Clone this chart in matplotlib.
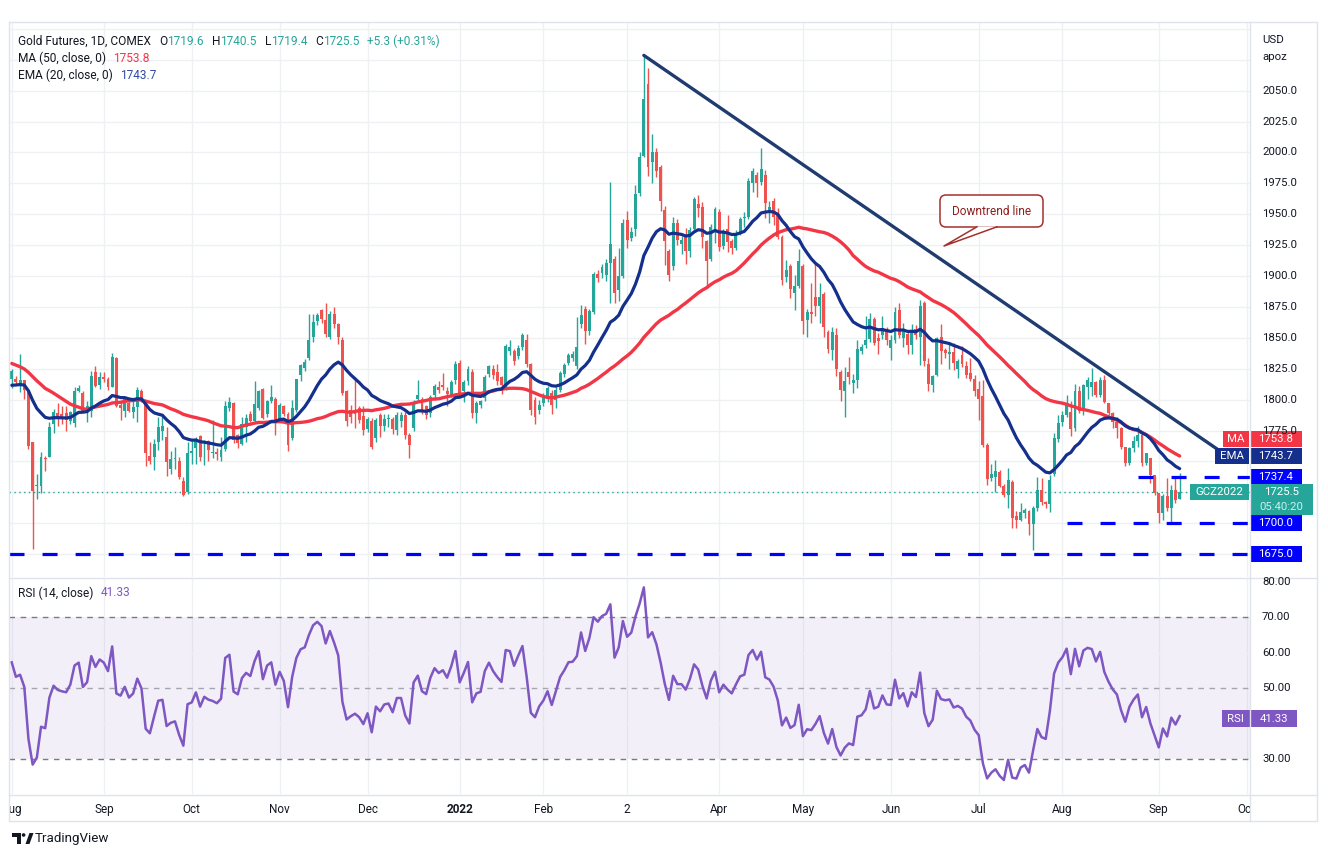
import numpy as np
import pandas as pd
import matplotlib
matplotlib.use("Agg")
import matplotlib.pyplot as plt
from matplotlib.patches import Rectangle, FancyBboxPatch, Polygon, Circle

plt.rcParams['font.family'] = ['Roboto', 'DejaVu Sans']
plt.rcParams['lines.scale_dashes'] = False

# closes before the first drawn bar (late May - Jul 2021), only used to warm up MA / EMA / RSI
pre_close = [1838, 1867, 1868, 1881, 1877, 1881, 1882, 1898, 1901, 1895, 1902,
             1903, 1909, 1871, 1891, 1898, 1893, 1895, 1899, 1877, 1865, 1857,
             1812, 1774, 1764, 1783, 1778, 1782, 1776, 1781, 1780, 1761, 1770,
             1783, 1787, 1797, 1803, 1801, 1810, 1806, 1810, 1827, 1829, 1815,
             1813, 1811, 1804, 1807, 1802, 1799, 1800, 1808, 1833, 1817]

# daily bars, Aug 2 2021 .. Sep 9 2022
opens = [
    1817, 1817, 1813, 1815.5, 1807.4, 1765.4, 1729.8, 1730.2, 1753, 1753.8,
    1780.3, 1789, 1788.4, 1789, 1783, 1780.8, 1807, 1805.7, 1791, 1791,
    1822.2, 1812.2, 1818, 1816.3, 1810.6, 1833.9, 1795.7, 1791, 1797, 1789.8,
    1794.4, 1806.8, 1799.2, 1754.6, 1753.8, 1765.4, 1774.4, 1769.5, 1743.8, 1752,
    1750.5, 1734.3, 1725.6, 1756.5, 1761, 1770.8, 1761.5, 1766.8, 1757, 1757.3,
    1753.2, 1760, 1793.3, 1797.3, 1771.6, 1764, 1778, 1788, 1782.5, 1793.3,
    1808.2, 1788, 1798.7, 1800.9, 1783.8, 1794.6, 1788.7, 1768.9, 1791.9, 1819.8,
    1825.2, 1833.9, 1850.6, 1863.6, 1872.3, 1864.2, 1850.6, 1869, 1861, 1848,
    1806.8, 1792, 1792, 1793.3, 1786.5, 1776.2, 1783, 1768.9, 1787.3, 1778.4,
    1784, 1784.4, 1775.7, 1783, 1787.9, 1771.6, 1777.1, 1800.1, 1800.1, 1794.6,
    1789.2, 1804.1, 1810.3, 1812.2, 1806.8, 1804.1, 1815.5, 1829.8, 1806.8, 1814.9,
    1822, 1789, 1796, 1801.2, 1820.7, 1825, 1822.3, 1818, 1809.3, 1839.1,
    1839.6, 1835, 1842.3, 1848, 1828.8, 1799.8, 1791.7, 1797, 1801.2, 1805.3,
    1800, 1808, 1820.7, 1829.6, 1833.7, 1826.9, 1861.3, 1873.4, 1855.3, 1871,
    1901.3, 1902.1, 1900.8, 1910.8, 1913.5, 1889, 1900, 1945.1, 1931.1, 1937.8,
    1967, 1997, 2055, 1991.9, 2000.1, 1988.4, 1953.2, 1920.2, 1908, 1943.2,
    1926, 1932, 1920.2, 1938, 1958, 1956, 1928, 1914, 1938, 1952,
    1924, 1937.8, 1928.3, 1923, 1935.1, 1947, 1948, 1975, 1981.9, 1976,
    1981.9, 1951.3, 1961, 1949, 1931.8, 1899.4, 1908, 1886.4, 1892, 1908,
    1864.2, 1870.9, 1883, 1876, 1885.3, 1854.7, 1840, 1852.5, 1822.2, 1807,
    1822, 1813.3, 1816, 1839.3, 1843.9, 1849, 1865.5, 1850, 1852, 1857.4,
    1842, 1848, 1872.8, 1850, 1853.4, 1844, 1857.4, 1850.6, 1878.5, 1829,
    1812, 1820, 1851, 1840.1, 1837, 1838.7, 1825, 1836, 1827, 1821.7,
    1817, 1808.2, 1803, 1763.5, 1736.5, 1737.8, 1741.3, 1730.5, 1722.9, 1733.2,
    1706, 1702.7, 1708, 1710, 1699, 1712.7, 1727, 1717.5, 1715.4, 1740,
    1768.4, 1781.9, 1787.3, 1790, 1777, 1806.8, 1790.6, 1810, 1810.1, 1814.4,
    1804.1, 1815.5, 1797, 1789.2, 1782, 1777.1, 1761.4, 1748.6, 1760.8, 1766.8,
    1771, 1748.6, 1753, 1739.2, 1724.3, 1708.1, 1722.4, 1712.1, 1727, 1719.6]
highs = [
    1825, 1819, 1837, 1816, 1808.7, 1765.4, 1739.7, 1757.3, 1754.6, 1782.2,
    1792.5, 1797.3, 1795.2, 1795.2, 1791.1, 1810, 1812, 1807, 1799.2, 1823,
    1826.8, 1822.2, 1822.2, 1818.7, 1837.7, 1834.5, 1799.2, 1802.5, 1800.6, 1799.2,
    1810.6, 1808.7, 1800, 1766, 1768.5, 1785.7, 1786.5, 1777.6, 1758.7, 1761.5,
    1753.2, 1737, 1765.4, 1767, 1770, 1771.6, 1767, 1767.4, 1783.6, 1760.5,
    1770, 1799, 1802, 1798, 1772, 1786, 1788, 1791, 1814.9, 1808,
    1809, 1800, 1812.2, 1802, 1797, 1796, 1790, 1800, 1817, 1829,
    1833, 1869.6, 1869.6, 1870, 1873, 1878.5, 1872, 1875, 1862, 1851,
    1808, 1796, 1818.2, 1795, 1794.6, 1786, 1785, 1785, 1789, 1788,
    1788, 1786, 1790, 1790, 1790, 1773, 1800, 1815.5, 1802, 1796,
    1804, 1813, 1815, 1821.7, 1810, 1816, 1831, 1832, 1816, 1827,
    1825, 1799, 1800, 1820, 1828, 1828, 1829, 1819, 1845, 1848,
    1841, 1844, 1854, 1853, 1830, 1802, 1800, 1805, 1811, 1808,
    1810, 1823, 1830, 1838, 1839, 1866.7, 1876.9, 1876, 1873, 1903,
    1905, 1910, 1914, 1976.2, 1916, 1923, 1946, 1952.7, 1940, 1973.8,
    2000, 2078.5, 2068.5, 2014.9, 2003.6, 1990, 1956.8, 1922, 1948, 1946,
    1932, 1939, 1940, 1964, 1965.6, 1960.2, 1929, 1942, 1956, 1954,
    1938, 1949.4, 1930, 1937, 1948, 1952.1, 1979, 1987, 1984, 2003.5,
    1985.9, 1961, 1963, 1955, 1933, 1912.9, 1910, 1900.7, 1921.5, 1910,
    1873, 1894.5, 1911.5, 1894.5, 1887, 1856, 1858.8, 1857.9, 1824, 1826.3,
    1834.4, 1821, 1848.5, 1845, 1867.4, 1870.1, 1867, 1854, 1867.4, 1859,
    1852, 1875, 1878.2, 1862, 1855, 1861.5, 1860, 1880.4, 1880, 1833.3,
    1820, 1851, 1861, 1842, 1846, 1846, 1833, 1843.3, 1831.2, 1833.3,
    1820, 1814.9, 1816, 1765, 1747.8, 1751.4, 1743, 1732, 1744.6, 1735,
    1710, 1716.2, 1712, 1711, 1714, 1737.8, 1736.5, 1718, 1739.2, 1773,
    1787.9, 1790.6, 1804.1, 1799, 1812.8, 1810.9, 1813, 1818, 1825.2, 1815,
    1818.2, 1820, 1797, 1790, 1786, 1778, 1762, 1762, 1770.3, 1778.4,
    1773, 1757, 1752, 1738, 1724, 1724, 1736.5, 1731.1, 1736.5, 1740.5]
lows = [
    1809, 1812, 1806, 1800.6, 1760, 1679, 1719.4, 1724.8, 1742.4, 1753.2,
    1772.7, 1779, 1780.3, 1775, 1780.3, 1778, 1806, 1789.8, 1782.2, 1785.7,
    1810, 1808.7, 1814, 1807.4, 1810, 1794, 1783.5, 1785.7, 1790, 1785,
    1781.7, 1798, 1746, 1748, 1743, 1759, 1767, 1738.4, 1740, 1744,
    1735.6, 1722, 1724, 1748, 1748, 1750.5, 1747, 1750.5, 1753, 1751,
    1750.5, 1758.7, 1791, 1765, 1761, 1763, 1766, 1782, 1782, 1792,
    1784, 1786, 1797, 1771.6, 1782, 1787, 1758.6, 1767, 1790, 1815,
    1823, 1832, 1847, 1860, 1862, 1851, 1849, 1858, 1844.7, 1804,
    1779, 1781, 1777, 1781, 1771.6, 1774, 1760, 1766, 1770, 1775,
    1778, 1772, 1771, 1778, 1768, 1752.7, 1775, 1798, 1788, 1784,
    1786, 1800, 1805, 1808, 1795, 1802, 1813, 1803, 1798, 1812,
    1785, 1780.9, 1793, 1799, 1818, 1817, 1812, 1804.4, 1808, 1836,
    1828, 1833, 1840, 1826, 1787.7, 1780.1, 1788, 1795, 1798, 1788.2,
    1793.1, 1806, 1818, 1828, 1831, 1825, 1858, 1845, 1852, 1869,
    1895, 1898, 1896, 1878.3, 1878, 1880, 1898, 1922.4, 1928, 1932.4,
    1965, 1996, 1981.1, 1974.9, 1980, 1952.7, 1908.9, 1895.9, 1905, 1925,
    1918, 1910, 1915, 1936, 1948, 1922.3, 1890, 1912, 1927, 1920,
    1922, 1919.6, 1918, 1921, 1933, 1939.4, 1946, 1968, 1963.7, 1974,
    1946.7, 1943.2, 1941.3, 1930, 1892.6, 1895, 1882.6, 1872.3, 1890, 1853.4,
    1850.6, 1862, 1868, 1862, 1850.6, 1838, 1831.7, 1819.5, 1798.7, 1785.7,
    1812.8, 1805.5, 1809.5, 1837, 1842, 1847, 1844, 1837.1, 1849, 1843.9,
    1831.7, 1846, 1850, 1842.5, 1837, 1837.1, 1849, 1827.7, 1827.1, 1806.8,
    1806, 1819, 1829, 1834, 1824.4, 1823.6, 1817.6, 1826, 1817.6, 1814.9,
    1802.8, 1783.8, 1762, 1731.1, 1734, 1725.6, 1729, 1721, 1712.1, 1695.9,
    1695.9, 1701.8, 1704, 1690.5, 1678.3, 1710, 1715, 1712.1, 1709.4, 1738,
    1766, 1779, 1786, 1770.3, 1775, 1789.2, 1787.9, 1800.1, 1802.8, 1802,
    1802, 1797.3, 1787.9, 1777.1, 1768.9, 1760, 1746, 1747.3, 1758, 1762,
    1745.9, 1747.3, 1732.4, 1723, 1699.9, 1702.7, 1710, 1701.3, 1716, 1719.4]
closes = [
    1823, 1814, 1815.5, 1808, 1762.7, 1726.2, 1731, 1753.8, 1752, 1778.1,
    1789.8, 1785.7, 1784.4, 1783.6, 1789.8, 1806.8, 1809.5, 1791, 1795, 1819.5,
    1811.4, 1818.7, 1816.5, 1810.6, 1834.4, 1795.2, 1793, 1801, 1791, 1794.4,
    1807.4, 1799.2, 1756.5, 1750.5, 1764, 1778.1, 1778.9, 1749.2, 1751.9, 1753,
    1737, 1722.9, 1757, 1758.7, 1768, 1753.2, 1762, 1759.2, 1758, 1756,
    1759.2, 1795, 1798.4, 1767.6, 1765, 1780, 1785, 1782.5, 1796.5, 1806.8,
    1785.2, 1798.7, 1802, 1783.8, 1796, 1788.4, 1763.5, 1793.3, 1816.3, 1827.9,
    1830.6, 1847.9, 1863, 1868.5, 1865.5, 1852.8, 1869.6, 1861, 1851, 1805.5,
    1782.5, 1785.7, 1788, 1783.8, 1775.7, 1784.4, 1761.6, 1783.8, 1778.4, 1784.4,
    1785.2, 1776.5, 1787.9, 1787.9, 1771.6, 1763.5, 1797.3, 1804.1, 1790, 1787.3,
    1802, 1811.4, 1807.6, 1810.1, 1804.7, 1814.4, 1828.5, 1805.5, 1814.1, 1824.4,
    1789, 1797.1, 1798.5, 1818, 1826.9, 1820.1, 1815.3, 1811.5, 1843.1, 1842.3,
    1831.5, 1841.8, 1852.1, 1828.8, 1791.7, 1786.3, 1795.8, 1801, 1809.3, 1795.8,
    1808, 1821.5, 1828.2, 1836.4, 1836.9, 1842.3, 1868.8, 1855.8, 1871.5, 1901.8,
    1898.6, 1907.3, 1910.8, 1926.2, 1886.4, 1900, 1943.2, 1928.9, 1935.9, 1966.2,
    1996, 2043.3, 1987.9, 2000.1, 1985.2, 1960.8, 1928.4, 1900.8, 1943.2, 1928.9,
    1928.9, 1920.2, 1937, 1962.2, 1955, 1931.8, 1912.3, 1939.4, 1954.3, 1923.2,
    1935.1, 1927.8, 1922.3, 1934.5, 1945.9, 1948.1, 1977, 1985.1, 1975.1, 1986.7,
    1958.9, 1956.2, 1948.1, 1931.8, 1896.6, 1904.8, 1889.1, 1891.8, 1912.3, 1863.6,
    1870.9, 1869.5, 1875.5, 1883.1, 1858.8, 1841.2, 1854.7, 1824.4, 1807.9, 1814.9,
    1818.7, 1816, 1841.2, 1842.5, 1847.9, 1865.5, 1845.8, 1847.4, 1857.9, 1848.5,
    1847.9, 1870.9, 1852.5, 1857.4, 1843.9, 1856.6, 1852, 1875.5, 1831.2, 1812.8,
    1819, 1849.6, 1839.3, 1837.9, 1838.7, 1829.8, 1831.2, 1828.5, 1820.3, 1816.3,
    1806.8, 1800.9, 1763.5, 1735.9, 1739.7, 1741.9, 1730.5, 1722.9, 1735.1, 1704.5,
    1702.7, 1709.4, 1711, 1699.1, 1712.7, 1727, 1717.5, 1715.4, 1735, 1768.9,
    1781.1, 1787.3, 1797.3, 1776, 1806.8, 1790.6, 1811.7, 1815.5, 1814.4, 1804.1,
    1815.5, 1798.2, 1789.2, 1781.9, 1777.1, 1761.4, 1748.6, 1760.8, 1766.8, 1771.1,
    1748.6, 1756.8, 1739.2, 1724.3, 1708.1, 1722.4, 1712.1, 1727, 1718.9, 1725.5]

month_pos = [0, 22, 43, 64, 85, 107, 127, 147, 169, 189, 210, 231, 251, 274, 295]
month_lbl = ['Aug', 'Sep', 'Oct', 'Nov', 'Dec', '2022', 'Feb', '2', 'Apr', 'May',
             'Jun', 'Jul', 'Aug', 'Sep', 'Oct']
price_ticks = [1775, 1800, 1825, 1850, 1875, 1900, 1925, 1950, 1975, 2000, 2025, 2050]
grid_prices = [1675, 1700, 1725, 1750] + price_ticks + [2075, 2100]

# drawings on the chart
trend_x = [151, 288.6]
trend_y = [2078.5, 1758.5]
level_vals = [1675, 1700, 1737.4]
level_from = [-0.65, 252, 269]
last_price = 1725.5
ma_last, ema_last, rsi_last = 1753.8, 1743.7, 41.33

GREEN, RED = '#26a69a', '#ef5350'
MA_C, EMA_C, RSI_C = '#f23645', '#142f8c', '#7e57c2'
TXT, GRID = '#131722', '#eef0f4'
LVL = '#0000ff'

W, H = 1328, 857
fig = plt.figure(figsize=(W / 100, H / 100), dpi=100)
fig.patch.set_facecolor('white')


def rect(l, t, r, b):
    return [l / W, 1 - b / H, (r - l) / W, (b - t) / H]


ax = fig.add_axes(rect(9, 22, 1250, 577))
ax_rsi = fig.add_axes(rect(9, 579, 1250, 794))
ax_t = fig.add_axes(rect(9, 795, 1250, 821))
ov = fig.add_axes([0, 0, 1, 1], zorder=10)
ov.set_xlim(0, W)
ov.set_ylim(H, 0)
ov.axis('off')

XL = (-0.65, 295.8)
for a in (ax, ax_rsi, ax_t):
    a.set_xlim(*XL)
    a.set_xticks([])
    a.set_yticks([])
    for s in a.spines.values():
        s.set_visible(False)
ax.set_ylim(1656.5, 2105.5)
ax_rsi.set_ylim(20.1, 80.8)
ax_t.set_ylim(0, 1)

# indicators
n_pre = len(pre_close)
allc = pd.Series(pre_close + closes, dtype=float)
ma = allc.rolling(50).mean().to_numpy()[n_pre:]
ema = allc.ewm(span=20, adjust=False).mean().to_numpy()[n_pre:]
delta = allc.diff()
gain = delta.clip(lower=0).ewm(alpha=1 / 14, adjust=False).mean()
loss = (-delta.clip(upper=0)).ewm(alpha=1 / 14, adjust=False).mean()
rsi = (100 - 100 / (1 + gain / loss)).to_numpy()[n_pre:]

idx = np.arange(len(closes))
o, hi, lo, c = (np.array(v, dtype=float) for v in (opens, highs, lows, closes))
cols = np.where(c >= o, GREEN, RED)

# grid
for p in grid_prices:
    ax.axhline(p, color=GRID, lw=1, zorder=0)
for m in month_pos:
    ax.axvline(m, color=GRID, lw=1, zorder=0)
    ax_rsi.axvline(m, color=GRID, lw=1, zorder=0)

ax.axhline(last_price, color=GREEN, lw=1, dashes=[1, 2.5], zorder=1)
ax.vlines(idx, lo, hi, colors=cols, lw=1, zorder=3)
ax.bar(idx, np.maximum(np.abs(c - o), 0.4), bottom=np.minimum(o, c), width=0.7,
       color=cols, lw=0, zorder=4)
ax.plot(idx, ma, color=MA_C, lw=2.4, zorder=5, solid_capstyle='round')
ax.plot(idx, ema, color=EMA_C, lw=2.3, zorder=5, solid_capstyle='round')
ax.plot(trend_x, trend_y, color='#1f3b70', lw=2.4, zorder=6, solid_capstyle='round')
for v, x0 in zip(level_vals, level_from):
    ax.plot([x0, XL[1]], [v, v], color=LVL, lw=2.3, dashes=[10.8, 13], zorder=7)

# RSI pane
ax_rsi.fill_between(XL, 30, 70, color=RSI_C, alpha=0.09, lw=0, zorder=0)
for r in (60, 40):
    ax_rsi.axhline(r, color=GRID, lw=1, zorder=0)
for r, col in ((70, '#787b86'), (50, '#a3a6af'), (30, '#787b86')):
    ax_rsi.axhline(r, color=col, lw=1, dashes=[4, 4], zorder=1)
ax_rsi.plot(idx, rsi, color=RSI_C, lw=1.8, zorder=3)

# time axis labels
for m, t in zip(month_pos, month_lbl):
    ax_t.text(m, 0.45, t, ha='center', va='center', fontsize=8.5, color=TXT,
              fontweight='bold' if t == '2022' else 'normal', clip_on=True)


def py_price(p):
    return H - ax.transData.transform((0, p))[1]


def py_rsi(r):
    return H - ax_rsi.transData.transform((0, r))[1]


# frame / separators
FR = '#e0e3eb'
ov.plot([9, 1317, 1317, 9, 9], [22, 22, 821, 821, 22], color=FR, lw=1)
ov.plot([9, 1317], [578, 578], color=FR, lw=1)
ov.plot([9, 1317], [794.5, 794.5], color=FR, lw=1)
ov.plot([1250, 1250], [22, 821], color=FR, lw=1)

FS = 8.2
ov.text(1262, 40, 'USD', fontsize=FS, color=TXT, va='center')
ov.text(1262, 57, 'apoz', fontsize=FS, color=TXT, va='center')
for p in price_ticks:
    ov.text(1262, py_price(p), f'{p:.1f}', fontsize=FS, color=TXT, va='center')
for r in (80, 70, 60, 50, 30):
    ov.text(1262, py_rsi(r), f'{r:.2f}', fontsize=FS, color=TXT, va='center')


def box(x0, x1, yc, col, text, h=16, tcol='white'):
    ov.add_patch(Rectangle((x0, yc - h / 2), x1 - x0, h, color=col, lw=0))
    ov.text((x0 + x1) / 2, yc, text, fontsize=FS, color=tcol, ha='center', va='center')


box(1223, 1248.5, 439, MA_C, 'MA')
box(1250, 1302, 439, MA_C, f'{ma_last:.1f}')
box(1215, 1248.5, 455.5, EMA_C, 'EMA')
box(1250, 1302, 455.5, EMA_C, f'{ema_last:.1f}')
box(1250, 1302, py_price(level_vals[2]), LVL, f'{level_vals[2]:.1f}')
yl = py_price(last_price)
box(1190, 1248.5, yl, GREEN, 'GCZ2022')
ov.add_patch(Rectangle((1250, yl - 8), 63, 31, color=GREEN, lw=0))
ov.text(1281.5, yl, f'{last_price:.1f}', fontsize=FS, color='white', ha='center', va='center')
ov.text(1281.5, yl + 15, '05:40:20', fontsize=FS, color='#cdeeea', ha='center', va='center')
box(1250, 1302, py_price(level_vals[1]), LVL, f'{level_vals[1]:.1f}')
box(1250, 1302, py_price(level_vals[0]), LVL, f'{level_vals[0]:.1f}')
yr = py_rsi(rsi_last)
box(1222, 1249.5, yr, RSI_C, 'RSI', h=17)
box(1251, 1296.5, yr, RSI_C, f'{rsi_last:.2f}', h=17)

# callout
CAL = '#a3302c'
ov.add_patch(FancyBboxPatch((940, 195), 103, 32, boxstyle='round,pad=0,rounding_size=6',
                            fc='white', ec=CAL, lw=1.1, zorder=3))
ov.add_patch(Polygon([(977, 226.4), (944, 246), (997, 226.4)], closed=True,
                     fc='white', ec='none', zorder=4))
ov.plot([977, 944, 997], [226.8, 246, 226.8], color=CAL, lw=1.1, zorder=5)
ov.text(991.5, 211, 'Downtrend line', fontsize=8.6, color='#8f1f1f', ha='center',
        va='center', zorder=6)

# legend lines
renderer = fig.canvas.get_renderer()


def runs(x, y, parts, size=8.6):
    for txt, col, gap in parts:
        x += gap
        t = ov.text(x, y, txt, fontsize=size, color=col, va='center', ha='left')
        x += t.get_window_extent(renderer=renderer).width


runs(18, 41, [('Gold Futures, 1D, COMEX', TXT, 0), ('O', TXT, 8), ('1719.6', GREEN, 0),
              ('H', TXT, 8), ('1740.5', GREEN, 0), ('L', TXT, 8), ('1719.4', GREEN, 0),
              ('C', TXT, 8), ('1725.5', GREEN, 0), ('+5.3 (+0.31%)', GREEN, 7)])
runs(18, 58, [('MA (50, close, 0)', TXT, 0), (f'{ma_last:.1f}', MA_C, 7)])
runs(18, 75, [('EMA (20, close, 0)', TXT, 0), (f'{ema_last:.1f}', '#2f4ba3', 7)])
runs(18, 593, [('RSI (14, close)', TXT, 0), (f'{rsi_last:.2f}', RSI_C, 7)])

# TradingView mark
ov.add_patch(Polygon([(12, 833), (21, 833), (21, 844), (17, 844), (17, 837), (12, 837)],
                     fc=TXT, ec='none'))
ov.add_patch(Circle((23.6, 835), 1.8, fc=TXT, ec='none'))
ov.add_patch(Polygon([(25.5, 844), (29.5, 833), (33.5, 833), (29.5, 844)], fc=TXT, ec='none'))
ov.text(35, 838.5, 'TradingView', fontsize=9.6, color=TXT, va='center')

fig.savefig('out.png', dpi=100, facecolor='white')
